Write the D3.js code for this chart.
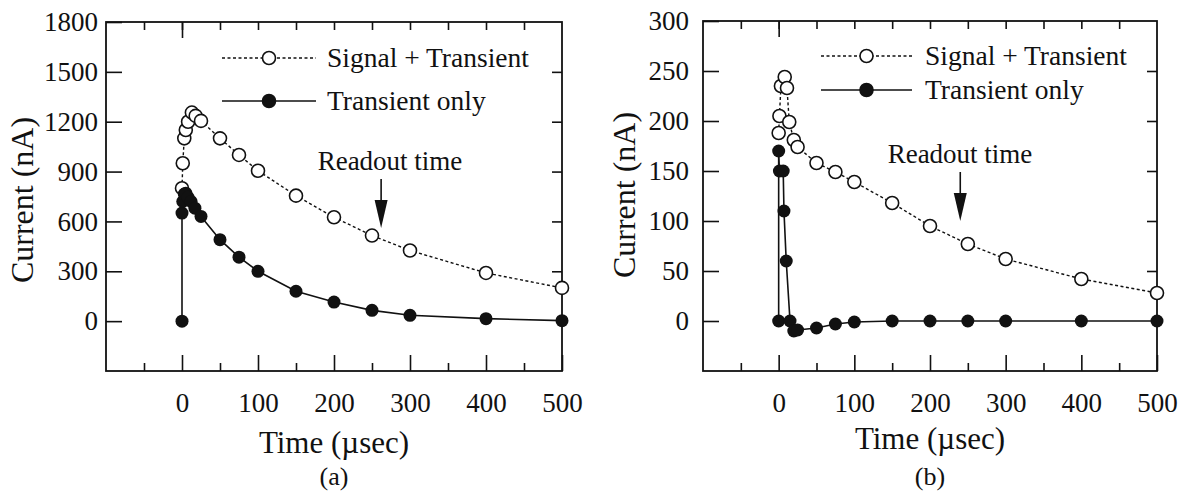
<!DOCTYPE html>
<html>
<head>
<meta charset="utf-8">
<script src="https://cdn.jsdelivr.net/npm/d3@7"></script>
<style>
  html, body { margin: 0; padding: 0; background: #fff; }
  svg { display: block; }
  text { font-family: "Liberation Serif", "Times New Roman", serif; fill: #111; }
</style>
</head>
<body>
<div id="chart"></div>
<script>
// panel (a)
const timeA_sig = [0, 1, 3, 5, 8, 13, 18, 25, 50, 75, 100, 150, 200, 250, 300, 400, 500]
const currA_sig = [800, 950, 1100, 1150, 1200, 1255, 1235, 1205, 1100, 1000, 905, 755, 625, 515, 425, 290, 200]
const timeA_tr = [0, 0, 1, 3, 5, 8, 12, 17, 25, 50, 75, 100, 150, 200, 250, 300, 400, 500]
const currA_tr = [0, 650, 720, 765, 770, 745, 720, 680, 630, 490, 385, 300, 180, 115, 65, 35, 15, 3]

// panel (b)
const timeB_sig = [0, 1, 3, 8, 11, 14, 20, 25, 50, 75, 100, 150, 200, 250, 300, 400, 500]
const currB_sig = [188, 205, 235, 244, 233, 199, 181, 174, 158, 149, 139, 118, 95, 77, 62, 42, 28]
const timeB_tr = [0, 0, 1, 6, 7, 10, 15, 20, 25, 50, 75, 100, 150, 200, 250, 300, 400, 500]
const currB_tr = [0, 170, 150, 150, 110, 60, 0, -10, -9, -7, -3, -1, 0, 0, 0, 0, 0, 0]

const xTicks = [0, 100, 200, 300, 400, 500]
const xMinor = [-50, 50, 150, 250, 350, 450]
const yTicksA = [0, 300, 600, 900, 1200, 1500, 1800]
const yTicksB = [0, 50, 100, 150, 200, 250, 300]
const legendNames = ["Signal + Transient", "Transient only"]

const W = 1182, H = 492
const svg = d3.select("#chart").append("svg")
  .attr("width", W)
  .attr("height", H)

const zip = (ts, vs) => ts.map((t, i) => [t, vs[i]])
const fmt = d3.format("d")

function drawPanel(o) {
  const x = d3.scaleLinear().domain([-100, 500]).range([o.left, o.right])
  const y = d3.scaleLinear().domain(o.yDomain).range([371, o.top])
  const g = svg.append("g")

  // ticks (all inward)
  g.append("g")
    .attr("transform", `translate(0,${y.range()[0]})`)
    .call(d3.axisBottom(x).tickValues(xTicks).tickSize(-16).tickPadding(22).tickFormat(fmt))
    .call(a => a.select(".domain").remove())
  g.append("g")
    .attr("transform", `translate(0,${y.range()[0]})`)
    .call(d3.axisBottom(x).tickValues(xMinor).tickSize(-8).tickFormat(""))
    .call(a => a.select(".domain").remove())
  g.append("g")
    .attr("transform", `translate(0,${o.top})`)
    .call(d3.axisTop(x).tickValues(d3.range(-50, 500, 50)).tickSize(-8).tickFormat(""))
    .call(a => a.select(".domain").remove())
  g.append("g")
    .attr("transform", `translate(0,${o.top})`)
    .call(d3.axisTop(x).tickValues([0]).tickSize(-16).tickFormat(""))
    .call(a => a.select(".domain").remove())
  g.append("g")
    .attr("transform", `translate(${o.left},0)`)
    .call(d3.axisLeft(y).tickValues(o.yTicks).tickSize(-16).tickPadding(o.labelPad).tickFormat(fmt))
    .call(a => a.select(".domain").remove())
  g.append("g")
    .attr("transform", `translate(${o.right},0)`)
    .call(d3.axisRight(y).tickValues(o.yTicks.slice(1, -1)).tickSize(-10).tickFormat(""))
    .call(a => a.select(".domain").remove())

  g.selectAll(".tick line").attr("stroke", "#111").attr("stroke-width", 1.6)
  g.selectAll(".tick text")
    .style("font-family", "'Liberation Serif', serif")
    .attr("font-size", 27)
    .attr("fill", "#111")

  // frame
  g.append("rect")
    .attr("x", o.left)
    .attr("y", o.top)
    .attr("width", o.right - o.left)
    .attr("height", y.range()[0] - o.top)
    .attr("fill", "none")
    .attr("stroke", "#111")
    .attr("stroke-width", 1.8)

  const line = d3.line().x(d => x(d[0])).y(d => y(d[1]))
  const sig = zip(o.sigT, o.sigV)
  const tr = zip(o.trT, o.trV)

  g.append("path")
    .datum(sig)
    .attr("d", line)
    .attr("fill", "none")
    .attr("stroke", "#111")
    .attr("stroke-width", 1.4)
    .attr("stroke-dasharray", "3,2.5")
  g.append("path")
    .datum(tr)
    .attr("d", line)
    .attr("fill", "none")
    .attr("stroke", "#111")
    .attr("stroke-width", 1.6)

  g.selectAll(".sig")
    .data(sig)
    .join("circle")
      .attr("class", "sig")
      .attr("cx", d => x(d[0]))
      .attr("cy", d => y(d[1]))
      .attr("r", 6.5)
      .attr("fill", "#fff")
      .attr("stroke", "#111")
      .attr("stroke-width", 1.6)
  g.selectAll(".tr")
    .data(tr)
    .join("circle")
      .attr("class", "tr")
      .attr("cx", d => x(d[0]))
      .attr("cy", d => y(d[1]))
      .attr("r", 6.5)
      .attr("fill", "#111")

  // legend
  const lg = o.legend
  legendNames.forEach((name, i) => {
    const ly = lg.y[i]
    g.append("line")
      .attr("x1", lg.x0).attr("x2", lg.x1)
      .attr("y1", ly).attr("y2", ly)
      .attr("stroke", "#111")
      .attr("stroke-width", i == 0 ? 1.4 : 1.6)
      .attr("stroke-dasharray", i == 0 ? "3,2.5" : null)
    g.append("circle")
      .attr("cx", (lg.x0 + lg.x1) / 2)
      .attr("cy", ly)
      .attr("r", 6.5)
      .attr("fill", i == 0 ? "#fff" : "#111")
      .attr("stroke", "#111")
      .attr("stroke-width", 1.6)
    g.append("text")
      .attr("x", lg.tx)
      .attr("y", ly + 9)
      .attr("font-size", 27.5)
      .text(name)
  })

  // readout annotation
  const rx = x(o.readout)
  g.append("text")
    .attr("x", o.readoutTextX)
    .attr("y", o.readoutY)
    .attr("text-anchor", "middle")
    .attr("font-size", 27)
    .text("Readout time")
  g.append("line")
    .attr("x1", rx).attr("x2", rx)
    .attr("y1", o.readoutY + 9).attr("y2", o.readoutY + 36)
    .attr("stroke", "#111")
    .attr("stroke-width", 1.6)
  g.append("path")
    .attr("d", `M${rx - 6.5},${o.readoutY + 30} L${rx + 6.5},${o.readoutY + 30} L${rx},${o.readoutY + 58} Z`)
    .attr("fill", "#111")

  // axis titles
  g.append("text")
    .attr("transform", `translate(${o.yTitleX},${o.yTitleY}) rotate(-90)`)
    .attr("text-anchor", "middle")
    .attr("font-size", 32)
    .text("Current (nA)")
  const cx = (o.left + o.right) / 2
  g.append("text")
    .attr("x", cx)
    .attr("y", o.xTitleY)
    .attr("text-anchor", "middle")
    .attr("font-size", 31)
    .text("Time (\u00b5sec)")
  g.append("text")
    .attr("x", cx)
    .attr("y", 485)
    .attr("text-anchor", "middle")
    .attr("font-size", 26)
    .text(o.tag)
}

drawPanel({
  left: 106, right: 562, top: 22,
  yDomain: [-300, 1800], yTicks: yTicksA, labelPad: 8,
  sigT: timeA_sig, sigV: currA_sig, trT: timeA_tr, trV: currA_tr,
  legend: {x0: 222, x1: 316, y: [58, 101], tx: 327},
  readout: 262, readoutTextX: 390, readoutY: 170,
  yTitleX: 33, yTitleY: 200, xTitleY: 453, tag: "(a)"
})

drawPanel({
  left: 703, right: 1157, top: 21,
  yDomain: [-50, 300], yTicks: yTicksB, labelPad: 14,
  sigT: timeB_sig, sigV: currB_sig, trT: timeB_tr, trV: currB_tr,
  legend: {x0: 821, x1: 912, y: [56, 90], tx: 925},
  readout: 240, readoutTextX: 960, readoutY: 163,
  yTitleX: 635, yTitleY: 195, xTitleY: 449, tag: "(b)"
})
</script>
</body>
</html>
